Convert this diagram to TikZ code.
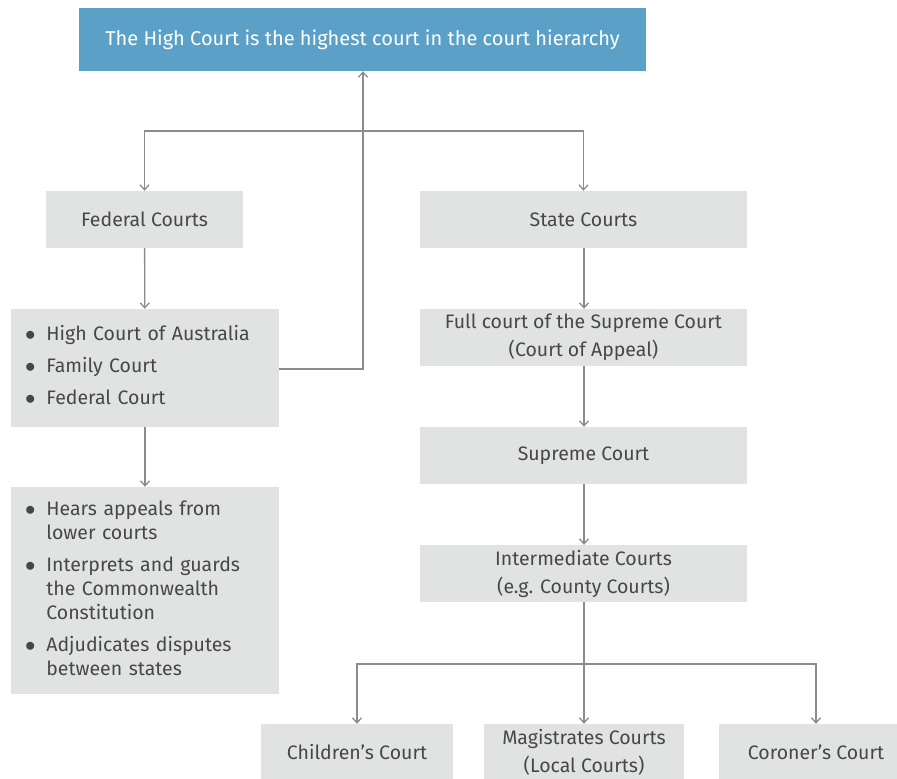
\documentclass[tikz,border=0pt]{standalone}
\usepackage{fontspec}
\setmainfont{Fira Sans}
\usepackage{tikz}
\usetikzlibrary{arrows.meta}
\definecolor{hcblue}{HTML}{5BA0C6}
\definecolor{boxgray}{HTML}{E1E2E2}
\definecolor{txtgray}{HTML}{474747}
\definecolor{linegray}{HTML}{8C8C8C}
\newcommand{\blist}[1]{\begin{tabular}{@{}l@{\hspace{11pt}}l@{}}#1\end{tabular}}
\newcommand{\bdot}{$\bullet$}

\begin{document}
\begin{tikzpicture}[x=1pt, y=-1pt,
    court/.style={fill=boxgray, text=txtgray, font=\fontsize{19.5}{28}\selectfont, align=center, inner sep=0pt, minimum height=57pt},
    listbox/.style={fill=boxgray, text=txtgray, font=\fontsize{19.5}{24}\selectfont, align=left, inner xsep=14pt, inner ysep=0pt, text width=240pt},
    link/.style={draw=linegray, line width=1.3pt, -{Straight Barb[length=5pt, width=9pt]}}]
    \useasboundingbox (0,0) rectangle (897,779);
    % top of the hierarchy
    \node[fill=hcblue, text=white, font=\fontsize{20}{24}\selectfont, minimum width=567pt, minimum height=63pt, inner sep=0pt]
        (high) at (362.5,39.5) {The High Court is the highest court in the court hierarchy};
    % federal side
    \node[court, minimum width=197pt] (federal) at (144.5,219.5) {Federal Courts};
    \node[listbox, minimum height=118pt] (fedlist) at (145,368)
        {\blist{\bdot & High Court of Australia\\[8pt]
                \bdot & Family Court\\[8pt]
                \bdot & Federal Court}};
    \node[listbox, minimum height=207pt] (roles) at (145,590.5)
        {\blist{\bdot & Hears appeals from\\
                      & lower courts\\[8pt]
                \bdot & Interprets and guards\\
                      & the Commonwealth\\
                      & Constitution\\[8pt]
                \bdot & Adjudicates disputes\\
                      & between states}};
    % state side
    \node[court, minimum width=327pt] (state) at (583.5,219.5) {State Courts};
    \node[court, minimum width=327pt] (full) at (583.5,337.5) {Full court of the Supreme Court\\(Court of Appeal)};
    \node[court, minimum width=327pt] (supreme) at (583.5,455.5) {Supreme Court};
    \node[court, minimum width=327pt] (inter) at (583.5,573.5) {Intermediate Courts\\(e.g. County Courts)};
    % lower courts
    \node[court, minimum width=192pt] (children) at (357,752.5) {Children’s Court};
    \node[court, minimum width=200pt] (magis) at (584,752.5) {Magistrates Courts\\(Local Courts)};
    \node[court, minimum width=194pt] (coroner) at (816,752.5) {Coroner’s Court};
    % branch points
    \coordinate (split) at (363,131);
    \coordinate (lower) at (584,664);
    % connectors
    \draw[link] (fedlist.east |- 0,369) -| (high.south -| split);
    \draw[link] (split) -| (federal.north);
    \draw[link] (split) -| (state.north);
    \draw[link] (federal) -- (fedlist);
    \draw[link] (fedlist) -- (roles);
    \draw[link] (state.south -| 584,0) -- (full.north -| 584,0);
    \draw[link] (full.south -| 584,0) -- (supreme.north -| 584,0);
    \draw[link] (supreme.south -| 584,0) -- (inter.north -| 584,0);
    \draw[link] (inter.south -| lower) -- (magis.north -| lower);
    \draw[link] (lower) -| (children.north);
    \draw[link] (lower) -| (coroner.north);
\end{tikzpicture}
\end{document}
